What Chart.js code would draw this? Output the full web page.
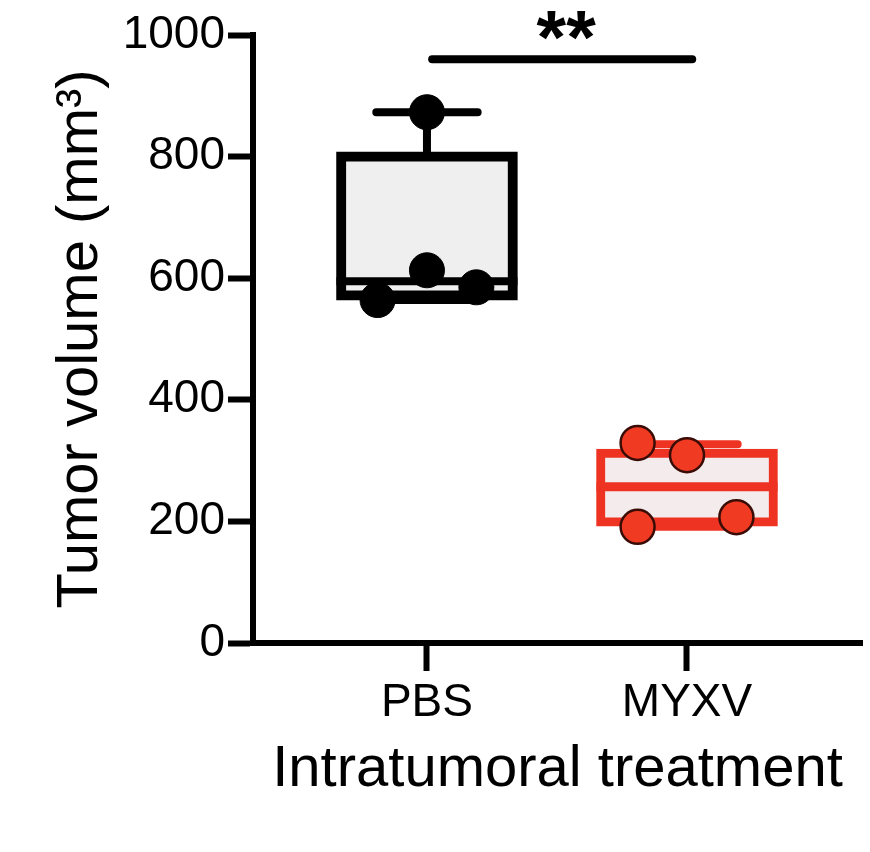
<!DOCTYPE html>
<html>
<head>
<meta charset="utf-8">
<script src="https://cdn.jsdelivr.net/npm/chart.js@4/dist/chart.umd.min.js"></script>
<style>
  html, body { margin: 0; padding: 0; background: #fff; overflow: hidden; }
  #wrap { width: 870px; height: 852px; position: relative; }
  #wrap canvas { display: block; }
</style>
</head>
<body>
<div id="wrap"><canvas id="c-box"></canvas></div>
<script>
// groups on the x axis
var groups = ['PBS', 'MYXV'];
var groupPos = [1, 2];
// box summaries
var q1 = [564, 192];
var q3 = [808, 319];
var medians = [595, 257];
var whiskMin = [564, 191];
var whiskMax = [873, 327];
// individual tumours
var pbsValues = [873, 613, 564, 585];
var pbsJitter = [0, 0, -0.19, 0.19];
var myxvValues = [329, 309, 191, 207];
var myxvJitter = [-0.19, 0, -0.19, 0.19];
var yTicks = [0, 200, 400, 600, 800, 1000];
// significance bar
var sigSpan = [1.02, 2.02];
var sigValue = 960;
var sigLabel = '**';

var fam = '"Liberation Sans", Arial, Helvetica, sans-serif';
var lineCols = ['#000000', '#ee3322'];
var medWidth = [8, 9];

var boxExtras = {
  id: 'boxExtras',
  afterDatasetDraw: function(chart, args) {
    if (args.index !== 0) return;
    var ctx = chart.ctx, y = chart.scales.y;
    args.meta.data.forEach(function(bar, i) {
      var half = bar.width / 2;
      var capHalf = bar.width * 0.28;
      ctx.save();
      ctx.strokeStyle = lineCols[i];
      // median
      ctx.lineWidth = medWidth[i];
      ctx.lineCap = 'butt';
      var ym = y.getPixelForValue(medians[i]);
      ctx.beginPath();
      ctx.moveTo(bar.x - half, ym);
      ctx.lineTo(bar.x + half, ym);
      ctx.stroke();
      // whiskers
      ctx.lineWidth = 8;
      ctx.lineCap = 'round';
      var yTop = y.getPixelForValue(whiskMax[i]);
      var yBot = y.getPixelForValue(whiskMin[i]);
      ctx.beginPath();
      ctx.moveTo(bar.x, y.getPixelForValue(q3[i]));
      ctx.lineTo(bar.x, yTop);
      ctx.moveTo(bar.x - capHalf, yTop);
      ctx.lineTo(bar.x + capHalf, yTop);
      ctx.moveTo(bar.x, y.getPixelForValue(q1[i]));
      ctx.lineTo(bar.x, yBot);
      ctx.moveTo(bar.x - capHalf, yBot);
      ctx.lineTo(bar.x + capHalf, yBot);
      ctx.stroke();
      ctx.restore();
    });
  },
  afterDraw: function(chart) {
    var ctx = chart.ctx;
    var x = chart.scales.x.getPixelForValue((sigSpan[0] + sigSpan[1]) / 2);
    var yy = chart.scales.y.getPixelForValue(sigValue);
    ctx.save();
    ctx.fillStyle = '#000';
    ctx.font = 'bold 76px ' + fam;
    ctx.textAlign = 'center';
    ctx.textBaseline = 'alphabetic';
    ctx.fillText(sigLabel, x + 4, yy + 4);
    ctx.restore();
  }
};

new Chart(document.getElementById('c-box'), {
  type: 'bar',
  data: {
    datasets: [
      {
        type: 'bar',
        label: 'box',
        data: groupPos.map(function(x, i) { return {x: x, y: [q1[i], q3[i]]}; }),
        backgroundColor: ['#efefef', '#f4ecec'],
        borderColor: lineCols,
        borderWidth: [10, 9],
        borderSkipped: false,
        barThickness: 181,
        order: 2
      },
      {
        type: 'line',
        label: 'sig',
        data: [{x: sigSpan[0], y: sigValue}, {x: sigSpan[1], y: sigValue}],
        borderColor: '#000',
        borderWidth: 8,
        borderCapStyle: 'round',
        pointRadius: 0,
        order: 1
      },
      {
        type: 'scatter',
        label: 'PBS',
        data: pbsValues.map(function(v, i) { return {x: groupPos[0] + pbsJitter[i], y: v}; }),
        backgroundColor: '#000',
        borderColor: '#000',
        borderWidth: 1,
        pointRadius: 17.5,
        order: 0
      },
      {
        type: 'scatter',
        label: 'MYXV',
        data: myxvValues.map(function(v, i) { return {x: groupPos[1] + myxvJitter[i], y: v}; }),
        backgroundColor: '#f03a22',
        borderColor: '#3a0c06',
        borderWidth: 2.5,
        pointRadius: 17,
        order: 0
      }
    ]
  },
  options: {
    responsive: true,
    maintainAspectRatio: false,
    animation: false,
    layout: {autoPadding: false, padding: {top: 35, right: 8, bottom: 0, left: 0}},
    plugins: {legend: {display: false}, tooltip: {enabled: false}},
    scales: {
      x: {
        type: 'linear',
        min: 0.331,
        max: 2.673,
        offset: false,
        afterBuildTicks: function(s) { s.ticks = groupPos.map(function(v) { return {value: v}; }); },
        afterFit: function(s) { s.height = 209; },
        border: {color: '#000', width: 6},
        grid: {drawOnChartArea: false, drawTicks: true, tickLength: 28, tickWidth: 6, tickColor: '#000', offset: false},
        ticks: {
          color: '#000', padding: 5, autoSkip: false, maxRotation: 0,
          font: {family: fam, size: 46},
          callback: function(v) { var i = groupPos.indexOf(v); return i < 0 ? '' : groups[i]; }
        },
        title: {display: true, text: 'Intratumoral treatment', color: '#000', font: {family: fam, size: 58}, padding: {top: 0, bottom: 47}}
      },
      y: {
        min: 0,
        max: 1000,
        afterBuildTicks: function(s) { s.ticks = yTicks.map(function(v) { return {value: v}; }); },
        afterFit: function(s) { s.width = 253; },
        border: {color: '#000', width: 6},
        grid: {drawOnChartArea: false, drawTicks: true, tickLength: 25, tickWidth: 6, tickColor: '#000'},
        ticks: {color: '#000', padding: 3, font: {family: fam, size: 46}, callback: function(v) { return String(v); }},
        title: {display: true, text: 'Tumor volume (mm³)', color: '#000', font: {family: fam, size: 58}, padding: {top: 46, bottom: 0}}
      }
    }
  },
  plugins: [boxExtras]
});
</script>
</body>
</html>
